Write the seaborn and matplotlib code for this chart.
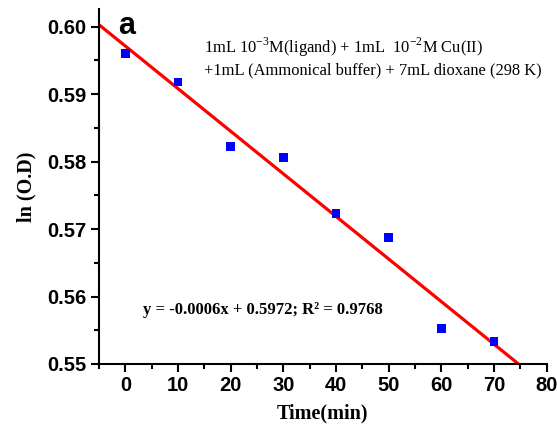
import numpy as np
import pandas as pd
import matplotlib
matplotlib.use("Agg")
import matplotlib.pyplot as plt
import seaborn as sns
from matplotlib.ticker import MultipleLocator

time_min = [0, 10, 20, 30, 40, 50, 60, 70]
ln_od = [0.5960, 0.5918, 0.5822, 0.5806, 0.5723, 0.5687, 0.5553, 0.5533]
x_ticks = [0, 10, 20, 30, 40, 50, 60, 70, 80]
y_ticks = [0.55, 0.56, 0.57, 0.58, 0.59, 0.60]

df = pd.DataFrame({"Time(min)": time_min, "ln (O.D)": ln_od})

sns.set_theme(style="ticks", rc={"text.color": "black", "axes.labelcolor": "black",
                                 "xtick.color": "black", "ytick.color": "black",
                                 "axes.edgecolor": "black"})
plt.rcParams["font.family"] = ["Liberation Sans", "DejaVu Sans"]

fig = plt.figure(figsize=(5.57, 4.30), dpi=100)
ax = fig.add_axes([0.1777, 0.1535, 0.8038, 0.8255])
ax.set_xlim(-5, 80)
ax.set_ylim(0.55, 0.6026)

sns.regplot(data=df, x="Time(min)", y="ln (O.D)", ax=ax, ci=None, truncate=False,
            scatter=False, line_kws=dict(color="#ff0000", lw=2.3, zorder=2))
sns.scatterplot(data=df, x="Time(min)", y="ln (O.D)", ax=ax, marker="s", s=40,
                color="#0000ff", edgecolor="none", zorder=3)
ax.set_xlim(-5, 80)
ax.set_ylim(0.55, 0.6026)

ax.set_xticks(x_ticks)
ax.set_yticks(y_ticks)
ax.set_yticklabels([f"{v:.2f}" for v in y_ticks])
ax.xaxis.set_minor_locator(MultipleLocator(5))
ax.yaxis.set_minor_locator(MultipleLocator(0.005))
ax.tick_params(which="major", direction="out", length=6, width=1.5, labelsize=14.5,
               pad=3, colors="black")
ax.tick_params(which="minor", direction="out", length=3.5, width=1.5, colors="black")
for lab in ax.get_xticklabels() + ax.get_yticklabels():
    lab.set_fontweight("bold")

for s in ["top", "right"]:
    ax.spines[s].set_visible(False)
for s in ["left", "bottom"]:
    ax.spines[s].set_linewidth(1.5)
    ax.spines[s].set_color("black")

serif = ["Liberation Serif", "DejaVu Serif"]
ax.set_xlabel("Time(min)", fontfamily=serif, fontweight="bold", fontsize=14.5, labelpad=6,
              color="black")
ax.set_ylabel("ln (O.D)", fontfamily=serif, fontweight="bold", fontsize=14.5, labelpad=8,
              color="black")

fig.text(0.212, 0.975, "a", fontsize=22, fontweight="bold", va="top", ha="left", color="black")
fig.text(0.366, 0.89, r"1mL 10$^{\mathregular{-3}}$M(ligand) + 1mL  10$^{\mathregular{-2}}$M Cu(II)",
         fontfamily=serif, fontsize=11.9, va="center", ha="left", color="black")
fig.text(0.366, 0.836, "+1mL (Ammonical buffer) + 7mL dioxane (298 K)",
         fontfamily=serif, fontsize=11.9, va="center", ha="left", color="black")
fig.text(0.257, 0.279, "y = -0.0006x + 0.5972; R\u00b2 = 0.9768",
         fontfamily=serif, fontweight="bold", fontsize=12, va="center", ha="left", color="black")

fig.savefig("out.png", dpi=100)
